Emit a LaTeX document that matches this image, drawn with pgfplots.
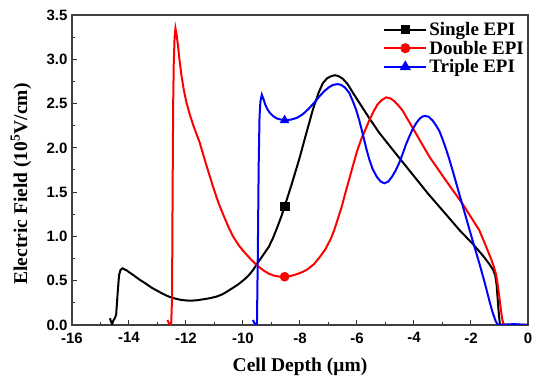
\documentclass[border=0pt]{standalone}
\usepackage{fontspec}
\setmainfont{Liberation Serif}
\setsansfont{Liberation Sans}
\usepackage{pgfplots}
\pgfplotsset{compat=1.18}
\begin{document}
\begin{tikzpicture}
\path[use as bounding box] (-72pt,-60pt) rectangle (478pt,325pt);
\begin{axis}[
  scale only axis, width=456pt, height=310pt,
  xmin=-16, xmax=0, ymin=0, ymax=3.5,
  xtick={-16,-14,...,0}, ytick={0,0.5,...,3.5},
  minor x tick num=1, minor y tick num=1,
  tick align=inside, xtick pos=bottom, ytick pos=left,
  major tick length=5pt, minor tick length=3pt,
  every tick/.style={black!80, line width=1pt},
  axis line style={black!75, line width=1.2pt},
  /pgf/number format/assume math mode=true,
  tick label style={font=\fontsize{15}{17}\selectfont\sffamily\bfseries},
  xticklabel style={yshift=-4pt},
  yticklabel style={xshift=-1pt, /pgf/number format/.cd, fixed, fixed zerofill, precision=1},
  xlabel={Cell Depth (μm)},
  ylabel={Electric Field (10\textsuperscript{5}V/cm)},
  label style={font=\fontsize{19.5}{22}\selectfont\bfseries},
  xlabel style={at={(axis description cs:0.5,-0.135)}, anchor=center},
  ylabel style={at={(axis description cs:-0.112,0.455)}, anchor=center},
  legend style={draw=none, fill=none, at={(1,1)}, anchor=north east,
    xshift=-1pt, yshift=-4pt, inner sep=1pt, row sep=0pt,
    font=\fontsize{19}{21}\selectfont\bfseries},
  legend cell align=left,
  legend image code/.code={\draw[mark repeat=2,mark phase=2] plot coordinates {(0pt,0pt) (21pt,0pt) (42pt,0pt)};},
]
\addlegendimage{black, line width=2pt, mark=square*, mark size=3.6pt}
\addlegendentry{Single EPI}
\addlegendimage{red, line width=2pt, mark=*, mark size=4pt}
\addlegendentry{Double EPI}
\addlegendimage{blue, line width=2pt, mark=triangle*, mark size=4.6pt}
\addlegendentry{Triple EPI}

\addplot[black, line width=2pt, forget plot] coordinates {
(-14.67,0.076) (-14.62,0.03) (-14.59,0.01) (-14.55,0.05) (-14.49,0.08) (-14.45,0.12)
(-14.40,0.35) (-14.35,0.56) (-14.30,0.62) (-14.23,0.64) (-14.10,0.62) (-13.90,0.575)
(-13.62,0.51) (-13.40,0.465) (-13.20,0.42) (-13.00,0.385) (-12.80,0.35) (-12.60,0.32)
(-12.40,0.30) (-12.20,0.285) (-12.00,0.277) (-11.80,0.275) (-11.60,0.28) (-11.40,0.29)
(-11.20,0.30) (-10.93,0.32) (-10.70,0.35) (-10.50,0.39) (-10.30,0.43) (-10.12,0.47)
(-9.95,0.515) (-9.80,0.56) (-9.65,0.62) (-9.53,0.68) (-9.40,0.74) (-9.25,0.81)
(-9.10,0.88) (-8.95,0.98) (-8.80,1.10) (-8.65,1.23) (-8.54,1.34) (-8.30,1.58)
(-8.02,1.88) (-7.80,2.14) (-7.55,2.43) (-7.35,2.62) (-7.20,2.73) (-7.05,2.785)
(-6.90,2.81) (-6.77,2.82) (-6.65,2.81) (-6.50,2.78) (-6.33,2.72) (-6.10,2.60)
(-5.92,2.51) (-5.60,2.35) (-5.22,2.17) (-4.60,1.92) (-4.10,1.72) (-3.50,1.48)
(-2.88,1.25) (-2.40,1.07) (-1.95,0.92) (-1.60,0.79) (-1.36,0.69) (-1.22,0.62)
(-1.15,0.56) (-1.10,0.45) (-1.07,0.32) (-1.03,0.15) (-0.99,0.02) (-0.95,0.00) (0,0)
};
\addplot[red, line width=2pt, forget plot] coordinates {
(-12.65,0.056) (-12.60,0.02) (-12.57,0.00) (-12.52,0.01) (-12.49,0.3) (-12.47,1.5)
(-12.45,2.5) (-12.43,2.95) (-12.40,3.25) (-12.37,3.35) (-12.33,3.28) (-12.28,3.15)
(-12.22,2.97) (-12.16,2.82) (-12.08,2.66) (-11.99,2.52) (-11.88,2.39) (-11.75,2.26)
(-11.52,2.06) (-11.30,1.82) (-11.05,1.56) (-10.85,1.37) (-10.70,1.25) (-10.50,1.10)
(-10.35,1.00) (-10.15,0.90) (-10.00,0.84) (-9.75,0.75) (-9.53,0.68) (-9.30,0.62)
(-9.10,0.58) (-8.89,0.555) (-8.70,0.545) (-8.50,0.545) (-8.30,0.555) (-8.10,0.575)
(-7.90,0.60) (-7.73,0.63) (-7.50,0.69) (-7.30,0.77) (-7.10,0.86) (-6.91,0.98)
(-6.80,1.07) (-6.68,1.19) (-6.55,1.32) (-6.40,1.50) (-6.27,1.65) (-6.15,1.79)
(-6.00,1.96) (-5.85,2.10) (-5.70,2.21) (-5.57,2.31) (-5.42,2.41) (-5.28,2.49)
(-5.13,2.54) (-4.98,2.57) (-4.84,2.56) (-4.70,2.53) (-4.55,2.48) (-4.40,2.42)
(-4.00,2.20) (-3.46,1.90) (-2.90,1.64) (-2.30,1.37) (-1.71,1.07) (-1.45,0.87)
(-1.30,0.75) (-1.20,0.66) (-1.12,0.57) (-1.07,0.47) (-1.01,0.33) (-0.95,0.17)
(-0.90,0.06) (-0.87,0.02) (-0.80,0.00) (0,0)
};
\addplot[blue, line width=2pt, forget plot] coordinates {
(-9.65,0.056) (-9.60,0.02) (-9.57,0.00) (-9.51,0.02) (-9.48,0.8) (-9.45,1.8)
(-9.42,2.35) (-9.39,2.52) (-9.34,2.60) (-9.28,2.55) (-9.22,2.49) (-9.15,2.44)
(-9.07,2.40) (-8.95,2.36) (-8.80,2.33) (-8.54,2.31) (-8.30,2.32) (-8.10,2.34)
(-7.90,2.38) (-7.70,2.44) (-7.50,2.51) (-7.32,2.58) (-7.15,2.64) (-7.00,2.68)
(-6.85,2.71) (-6.68,2.72) (-6.55,2.71) (-6.42,2.68) (-6.27,2.62) (-6.15,2.53)
(-6.03,2.43) (-5.92,2.31) (-5.80,2.16) (-5.68,2.00) (-5.57,1.87) (-5.45,1.76)
(-5.30,1.67) (-5.17,1.62) (-5.04,1.60) (-4.90,1.62) (-4.78,1.67) (-4.65,1.74)
(-4.52,1.83) (-4.40,1.93) (-4.28,2.04) (-4.16,2.13) (-4.05,2.21) (-3.92,2.28)
(-3.80,2.33) (-3.70,2.355) (-3.60,2.36) (-3.48,2.35) (-3.35,2.31) (-3.22,2.25)
(-3.11,2.19) (-3.00,2.10) (-2.88,1.99) (-2.76,1.87) (-2.65,1.75) (-2.42,1.49)
(-2.18,1.22) (-1.95,0.96) (-1.71,0.70) (-1.52,0.48) (-1.36,0.28) (-1.25,0.15)
(-1.13,0.04) (-1.05,0.00) (-0.50,0.01) (0,0.00)
};
\addplot[black, only marks, mark=square*, mark size=4.2pt, forget plot] coordinates {(-8.54,1.34)};
\addplot[red, only marks, mark=*, mark size=4.6pt, forget plot] coordinates {(-8.54,0.545)};
\addplot[blue, only marks, mark=triangle*, mark size=5.2pt, forget plot] coordinates {(-8.54,2.31)};
\end{axis}
\end{tikzpicture}
\end{document}
